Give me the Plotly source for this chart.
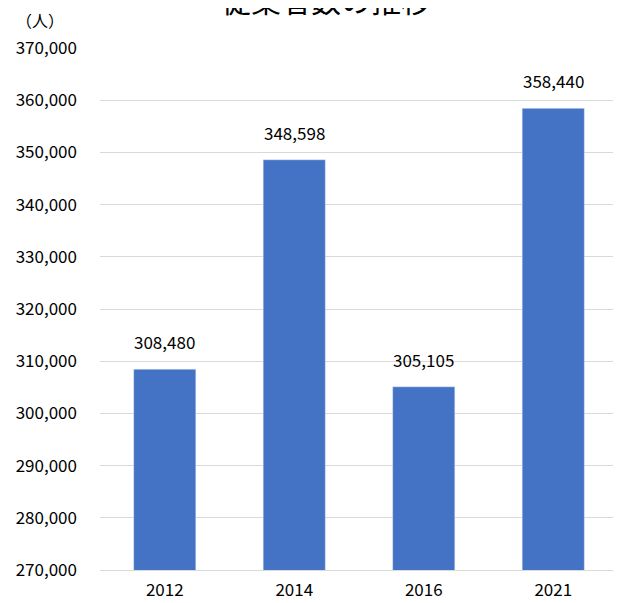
import plotly.graph_objects as go

years = ["2012", "2014", "2016", "2021"]
workers = [308480, 348598, 305105, 358440]
y_ticks = list(range(270000, 370001, 10000))

FONT = "Noto Sans CJK JP"

fig = go.Figure()
fig.add_trace(
    go.Bar(
        x=years,
        y=workers,
        marker={"color": "#4472C4"},
        width=0.48,
    )
)

# value labels float a little above each bar
# (category index, since numeric-looking strings are read as positions)
for i, value in enumerate(workers):
    fig.add_annotation(
        x=i, y=value,
        text=f"{value:,}",
        showarrow=False,
        yanchor="bottom",
        yshift=13,
        font={"size": 17, "color": "#000000", "family": FONT},
    )

# title sits mostly above the page top, as in the source image
fig.add_annotation(
    text="従業者数の推移",
    xref="paper", yref="paper",
    x=0.436, y=1.0939,
    xanchor="center", yanchor="middle",
    showarrow=False,
    font={"size": 30, "color": "#000000", "family": FONT},
)
fig.add_annotation(
    text="（人）",
    xref="paper", yref="paper",
    x=-0.116, y=1.054,
    xanchor="center", yanchor="middle",
    showarrow=False,
    font={"size": 16, "color": "#000000", "family": FONT},
)

fig.update_layout(
    width=613,
    height=595,
    margin={"l": 92, "r": 3, "t": 40, "b": 33},
    plot_bgcolor="white",
    paper_bgcolor="white",
    showlegend=False,
    font={"family": FONT, "size": 17, "color": "#000000"},
    xaxis={
        "type": "category",
        "showgrid": False,
        "showline": True,
        "linecolor": "#d9d9d9",
        "ticks": "",
        "ticklabelstandoff": 5,
        "tickfont": {"size": 17},
    },
    yaxis={
        "range": [270000, 370000],
        "tickvals": y_ticks,
        "tickformat": ",",
        "showgrid": True,
        "gridcolor": "#d9d9d9",
        "zeroline": False,
        "ticks": "",
        "ticklabelstandoff": 22,
        "tickfont": {"size": 17},
    },
)

fig.write_html("out.html")
